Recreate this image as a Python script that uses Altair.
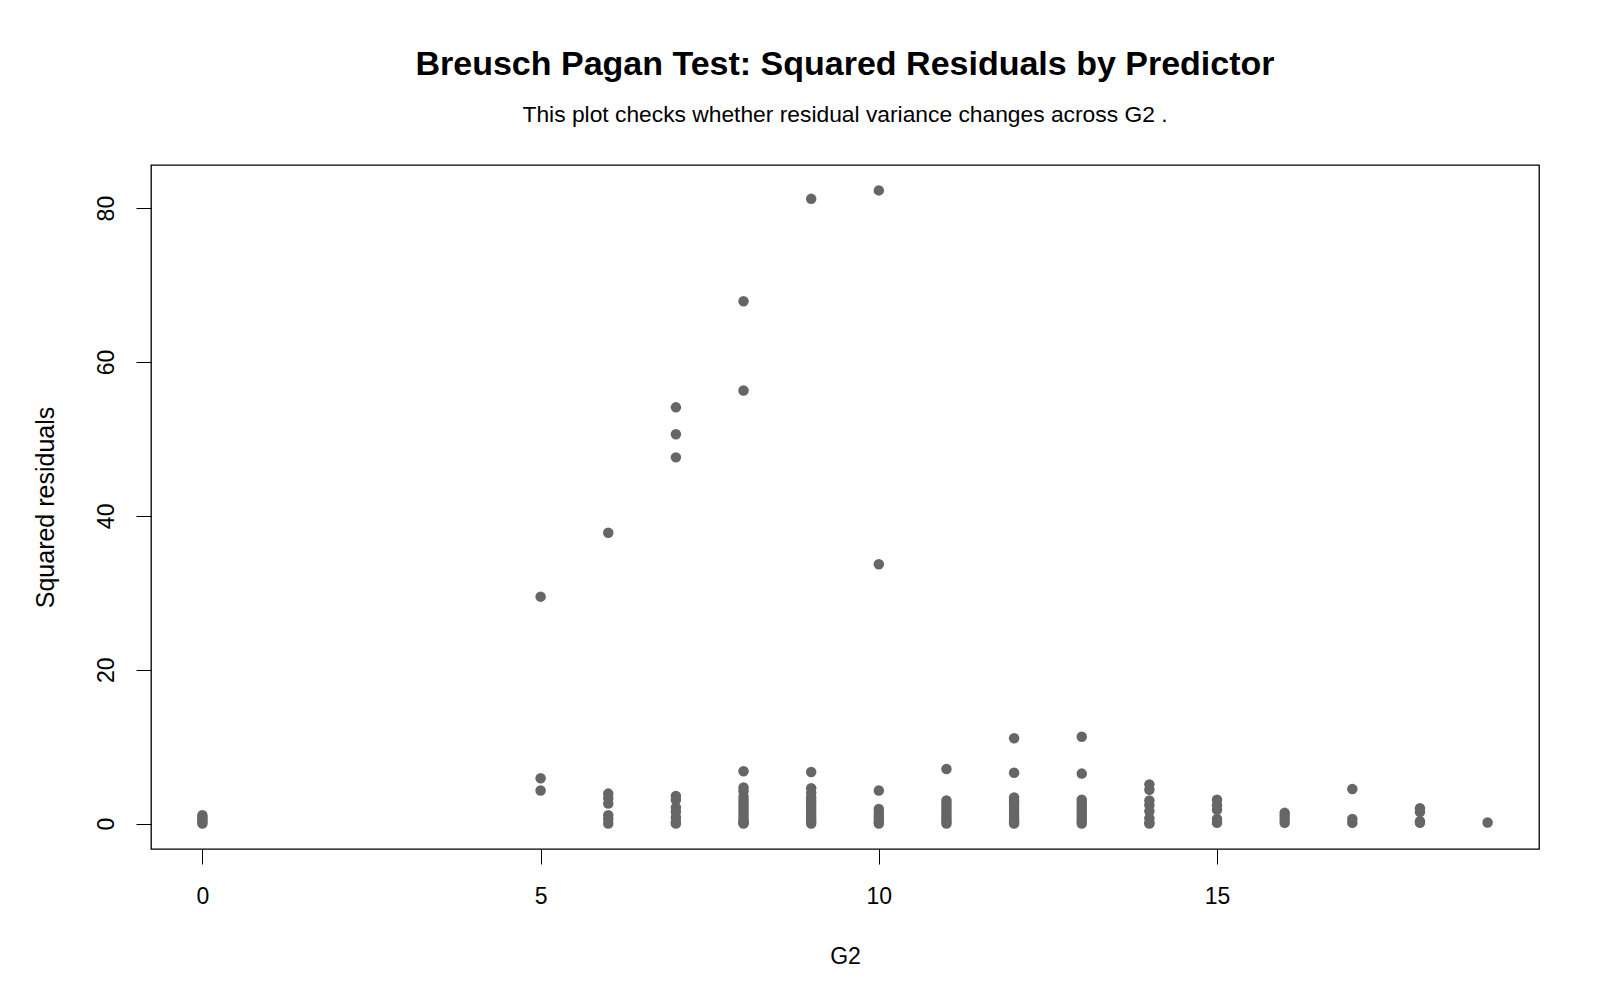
import altair as alt
import pandas as pd

# Column values (G2) and squared residuals
g2_levels = [0, 5, 6, 7, 8, 9, 10, 11, 12, 13, 14, 15, 16, 17, 18, 19]
sq_resid = [
    [0.0, 0.2, 0.5, 0.8, 1.1],
    [29.5, 5.9, 4.3],
    [37.8, 3.9, 3.3, 2.6, 1.1, 0.6, 0.0],
    [54.1, 50.6, 47.6, 3.6, 3.1, 2.1, 1.5, 0.8, 0.2, 0.0],
    [67.9, 56.3, 6.8, 4.7, 4.2, 3.5, 3.0, 2.6, 2.2, 1.8, 1.4, 1.0, 0.6, 0.3, 0.1, 0.0],
    [81.2, 6.7, 4.6, 4.0, 3.4, 3.0, 2.6, 2.2, 1.8, 1.4, 1.0, 0.6, 0.3, 0.0],
    [82.3, 33.7, 4.3, 1.9, 1.4, 1.0, 0.6, 0.2, 0.0],
    [7.1, 3.0, 2.6, 2.2, 1.8, 1.4, 1.0, 0.6, 0.3, 0.0],
    [11.1, 6.6, 3.4, 3.0, 2.6, 2.2, 1.8, 1.4, 1.0, 0.6, 0.3, 0.0],
    [11.3, 6.5, 3.1, 2.7, 2.3, 1.9, 1.5, 1.1, 0.7, 0.3, 0.0],
    [5.1, 4.4, 3.0, 2.4, 1.6, 0.7, 0.1, 0.0],
    [3.1, 2.4, 1.8, 0.6, 0.1],
    [1.4, 1.0, 0.5, 0.1],
    [4.5, 0.6, 0.1],
    [2.0, 1.5, 0.3, 0.1],
    [0.15],
]

x_ticks = [0, 5, 10, 15]
y_ticks = [0, 20, 40, 60, 80]

rows = []
for g, vals in zip(g2_levels, sq_resid):
    for v in vals:
        rows.append({"G2": g, "resid2": v})
df = pd.DataFrame(rows)

FONT = "Liberation Sans"
W, H = 1388, 684

chart = (
    alt.Chart(df)
    .mark_circle(size=110, color="#666666", opacity=1)
    .encode(
        x=alt.X(
            "G2:Q",
            scale=alt.Scale(domain=[-0.76, 19.76], nice=False, zero=False),
            axis=alt.Axis(
                values=x_ticks,
                title="G2",
                grid=False,
                domain=False,
                tickSize=15,
                tickColor="black",
                tickWidth=1,
                labelFont=FONT,
                labelFontSize=23,
                labelColor="black",
                labelPadding=32,
                labelBaseline="middle",
                titleFont=FONT,
                titleFontSize=23,
                titleFontWeight="normal",
                titleColor="black",
                titleX=W / 2,
                titleY=107,
                titleBaseline="middle",
                titleAlign="center",
            ),
        ),
        y=alt.Y(
            "resid2:Q",
            scale=alt.Scale(domain=[-3.3, 85.6], nice=False, zero=False),
            axis=alt.Axis(
                values=y_ticks,
                title="Squared residuals",
                grid=False,
                domain=False,
                tickSize=15,
                tickColor="black",
                tickWidth=1,
                labelFont=FONT,
                labelFontSize=23,
                labelColor="black",
                labelAngle=270,
                labelAlign="center",
                labelBaseline="middle",
                labelPadding=30,
                titleFont=FONT,
                titleFontSize=25,
                titleFontWeight="normal",
                titleColor="black",
                titleAngle=270,
                titleX=-106,
                titleY=H / 2,
                titleBaseline="middle",
                titleAlign="center",
            ),
        ),
    )
    .properties(
        width=W,
        height=H,
        title=alt.TitleParams(
            text="Breusch Pagan Test: Squared Residuals by Predictor",
            subtitle="This plot checks whether residual variance changes across G2 .",
            font=FONT,
            fontSize=34,
            fontWeight="bold",
            color="black",
            subtitleFont=FONT,
            subtitleFontSize=22.8,
            subtitleColor="black",
            subtitlePadding=22,
            anchor="middle",
            offset=38,
        ),
        padding={"left": 151, "top": 165, "right": 61, "bottom": 151},
        autosize=alt.AutoSizeParams(type="none"),
    )
    .configure(background="white")
    .configure_view(stroke="black", strokeWidth=1.3)
)

chart.save("out.html", embed_options={"renderer": "svg", "actions": False})
